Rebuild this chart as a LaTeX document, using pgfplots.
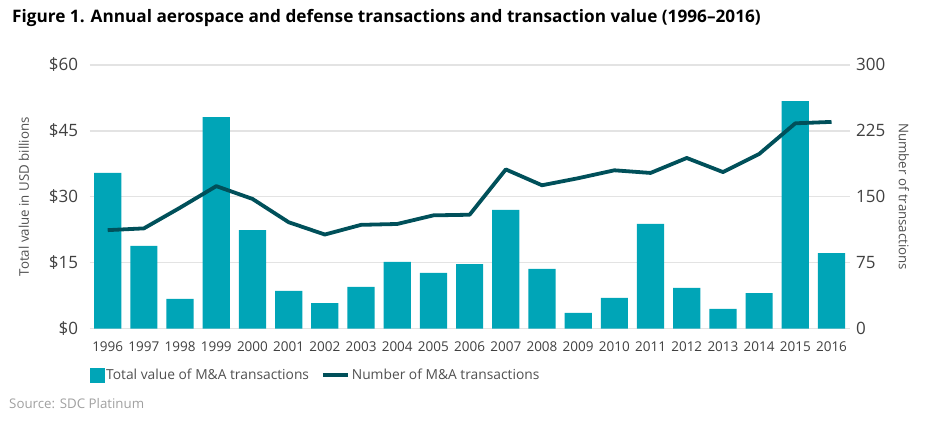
\documentclass[border=0pt]{standalone}
\usepackage{fontspec}
\setmainfont{Open Sans}
\usepackage{pgfplots}
\pgfplotsset{compat=1.18}
\definecolor{barcol}{HTML}{00A5B7}
\definecolor{linecol}{HTML}{00505A}
\definecolor{gridcol}{HTML}{E3E3E3}
\definecolor{tickcol}{HTML}{404040}
\definecolor{labcol}{HTML}{505050}
\definecolor{srccol}{HTML}{A0A0A0}
\begin{document}
\begin{tikzpicture}[x=1pt,y=1pt]
\path[use as bounding box] (0,0) rectangle (936,425);
\node[anchor=west, font=\bfseries\fontsize{17.2}{20}\selectfont, text=black, inner sep=0pt] at (12,407) {Figure 1. Annual aerospace and defense transactions and transaction value (1996–2016)};
\node[anchor=west, font=\fontsize{13.3}{15}\selectfont, text=srccol, inner sep=0pt] at (9,21) {Source: SDC Platinum};
\begin{axis}[
  at={(89.6pt,96.3pt)}, anchor=south west,
  scale only axis, width=760pt, height=264pt,
  xmin=-0.5, xmax=20.5, ymin=0, ymax=60,
  axis line style={draw=none},
  xtick={0,...,20},
  xticklabels={1996,1997,1998,1999,2000,2001,2002,2003,2004,2005,2006,2007,2008,2009,2010,2011,2012,2013,2014,2015,2016},
  xticklabel style={font=\fontsize{13.5}{15}\selectfont, text=tickcol, inner xsep=0pt, yshift=-9pt},
  xtick style={draw=none},
  ytick={0,15,30,45,60},
  yticklabel={\$\pgfmathprintnumber{\tick}},
  yticklabel style={font=\fontsize{17}{19}\selectfont, text=tickcol, xshift=-8pt},
  ytick style={draw=none},
  /pgf/number format/assume math mode=true,
  ymajorgrids, grid style={gridcol, line width=1.6pt},
  ylabel={Total value in USD billions},
  ylabel style={font=\fontsize{13.3}{15}\selectfont, text=labcol},
  every axis y label/.append style={at={(axis description cs:-0.075,0.5)}},
  clip=false,
]
\addplot[ybar, bar width=27.2pt, fill=barcol, draw=none, bar shift=0pt] coordinates {
(0,35.4) (1,18.8) (2,6.75) (3,48.1) (4,22.4) (5,8.6) (6,5.8) (7,9.5) (8,15.2) (9,12.7) (10,14.7)
(11,27.0) (12,13.6) (13,3.6) (14,7.0) (15,23.8) (16,9.25) (17,4.5) (18,8.1) (19,51.7) (20,17.2)
};
\end{axis}
\begin{axis}[
  at={(89.6pt,96.3pt)}, anchor=south west,
  scale only axis, width=760pt, height=264pt,
  xmin=-0.5, xmax=20.5, ymin=0, ymax=300,
  axis y line*=right, axis x line=none,
  axis line style={draw=none},
  ytick={0,75,150,225,300},
  yticklabel style={font=\fontsize{17}{19}\selectfont, text=tickcol, xshift=3pt},
  ytick style={draw=none},
  /pgf/number format/assume math mode=true,
  ylabel={Number of transactions},
  ylabel style={font=\fontsize{13.3}{15}\selectfont, text=labcol, rotate=180},
  every axis y label/.append style={at={(axis description cs:1.06,0.5)}},
  legend columns=2,
  legend style={draw=none, fill=none, at={(axis description cs:-0.004,-0.175)}, anchor=west,
    font=\fontsize{13.8}{15}\selectfont, text=labcol,
    nodes={inner xsep=2pt}},
  legend cell align=left,
  clip=false,
]
\addlegendimage{legend image code/.code={\fill[barcol] (0pt,-7pt) rectangle (14pt,7pt);}}
\addlegendentry{Total value of M\&A transactions\hspace*{10pt}}
\addplot[linecol, line width=3.8pt, line join=round,
  legend image code/.code={\draw[linecol, line width=3.8pt] (0pt,0pt) -- (25pt,0pt);}] coordinates {
(0,112) (1,114) (2,137.5) (3,162) (4,147.5) (5,121) (6,107) (7,118) (8,119) (9,128.8) (10,129.5)
(11,181) (12,163) (13,171) (14,180) (15,177) (16,194) (17,178) (18,198.5) (19,233.4) (20,235)
};
\addlegendentry{Number of M\&A transactions}
\end{axis}
\end{tikzpicture}
\end{document}
